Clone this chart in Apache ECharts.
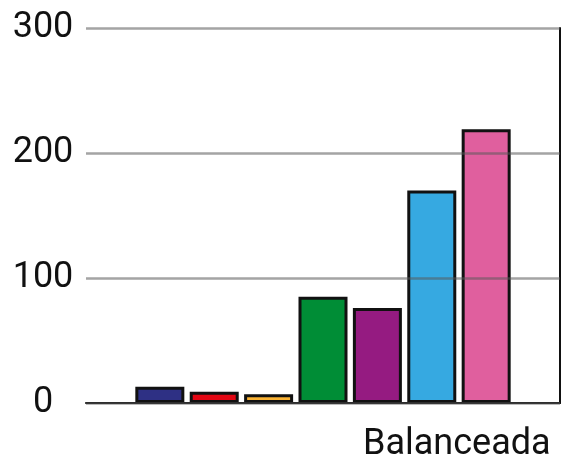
<!DOCTYPE html>
<html lang="es">
<head>
    <meta charset="UTF-8">
    <title>Balanceada</title>
    <script src="https://cdn.jsdelivr.net/npm/echarts@6/dist/echarts.min.js"></script>
    <style>
        html,body{margin:0;padding:0;background:#fff;}
    </style>
</head>
<body>
    <div id="chart1" style="width:564px;height:463px;"></div>
    <script>
        var categories=["Balanceada"]
        var seriesNames=["Serie 1","Serie 2","Serie 3","Serie 4","Serie 5","Serie 6","Serie 7"]
        var seriesValues=[13,9,7,85,76,170,219]
        var seriesColors=["#2e3084","#e30613","#f9b233","#008d36","#951b81","#36a9e1","#e05f9e"]
        var yTicks=[0,100,200,300]

        var myCharts=echarts.init(document.getElementById("chart1"))
        var series=seriesNames.map(function(name,i){
            return {
                name:name,
                type:"bar",
                data:[seriesValues[i]],
                barWidth:49,
                barGap:"11%",
                itemStyle:{
                    color:seriesColors[i],
                    borderColor:"#111",
                    borderWidth:3
                }
            }
        })
        var option={
            animation:false,
            grid:{left:86,right:4,top:28,bottom:59},
            xAxis:{
                type:"category",
                data:categories,
                axisTick:{show:false},
                axisLine:{lineStyle:{color:"#111",width:2}},
                axisLabel:{
                    color:"#111",
                    fontFamily:"Roboto",
                    fontSize:36,
                    align:"left",
                    verticalAlign:"top",
                    padding:[0,0,0,40],
                    margin:24
                }
            },
            yAxis:[
                {
                    type:"value",
                    min:yTicks[0],
                    max:yTicks[yTicks.length-1],
                    interval:100,
                    z:3,
                    axisLine:{show:false},
                    axisTick:{show:false},
                    axisLabel:{
                        color:"#111",
                        fontFamily:"Roboto",
                        fontSize:36,
                        align:"center",
                        margin:43
                    },
                    splitLine:{lineStyle:{color:"rgba(90,90,90,0.55)",width:2.5}}
                },
                {
                    type:"value",
                    position:"right",
                    min:yTicks[0],
                    max:yTicks[yTicks.length-1],
                    interval:100,
                    axisLine:{show:true,lineStyle:{color:"#111",width:2}},
                    axisTick:{show:false},
                    axisLabel:{show:false},
                    splitLine:{show:false}
                }
            ],
            series:series
        }
        myCharts.setOption(option)
    </script>
</body>
</html>
